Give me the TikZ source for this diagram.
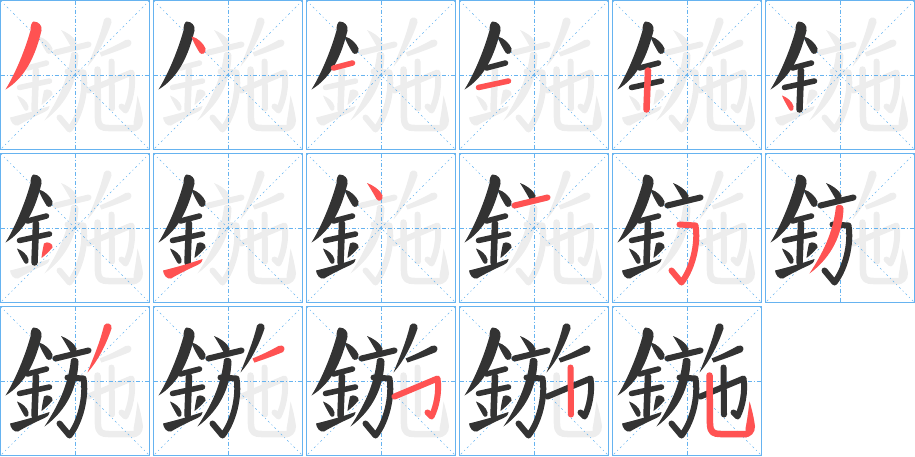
\documentclass[tikz,border=0pt]{standalone}
\definecolor{gridblue}{HTML}{66B3F0}
\definecolor{ink}{HTML}{333333}
\definecolor{hl}{HTML}{FF5252}
\definecolor{ghost}{HTML}{EDEDED}
\tikzset{
  cellframe/.style={draw=gridblue, line width=1.3pt},
  guide/.style={draw=gridblue, line width=0.8pt, dash pattern=on 4pt off 2pt on 1pt off 2pt},
  diag/.style={draw=gridblue, line width=0.6pt, dash pattern=on 2pt off 3pt on 1pt off 3pt},
  ln/.style={line width=#1, line cap=round, line join=round},
}
\newcommand\stk[2]{\ifcase#1\or
  % 1 pie of ren
  \fill[#2] (33,21) .. controls (38,21) and (42,25) .. (41,30)
     .. controls (35,55) and (25,77) .. (5,89)
     .. controls (12,78) and (23,55) .. (30,30)
     .. controls (30,25) and (31,22) .. (33,21) -- cycle;\or
  % 2 dot of ren
  \fill[#2] (38,36) .. controls (44,37) and (50,43) .. (52,48)
     .. controls (53,53) and (48,55) .. (46,52)
     .. controls (43,47) and (40,42) .. (38,36) -- cycle;\or
  % 3
  \draw[#2, ln=5.5] (27,67.5) -- (46,62.5);\or
  % 4
  \draw[#2, ln=5.5] (19,87) -- (49,80.5);\or
  % 5
  \draw[#2, ln=6.5] (35.5,70) -- (34,109);\or
  % 6
  \fill[#2] (16.5,95) .. controls (21,96.5) and (27,101) .. (28,106)
     .. controls (29,110) and (25,112) .. (23.5,108.5)
     .. controls (21,104) and (18,99) .. (16.5,95) -- cycle;\or
  % 7
  \fill[#2] (43.5,90) .. controls (47,87) and (53,90.5) .. (52,94)
     .. controls (48,98.5) and (45,101.5) .. (41,104.5)
     .. controls (41.5,99) and (42.5,95) .. (43.5,90) -- cycle;\or
  % 8
  \fill[#2] (9.5,117) .. controls (20,114.5) and (38,109.5) .. (49,105.5)
     .. controls (48.5,109) and (46.5,110.5) .. (44,111.5)
     .. controls (34,116) and (24,121) .. (17.5,125)
     .. controls (13.5,126) and (10,121.5) .. (9.5,117) -- cycle;\or
  % 9
  \fill[#2] (60.5,29.5) .. controls (66,31.5) and (74,36.5) .. (76,42)
     .. controls (77,47) and (72,49) .. (70,45.5)
     .. controls (67,40) and (64,35) .. (60.5,29.5) -- cycle;\or
  % 10
  \draw[#2, ln=6] (55,52) -- (88,44);\or
  % 11
  \draw[#2, ln=6] (67,71) -- (83,72) .. controls (86,90) and (80,115) .. (69,129) -- (59,117);\or
  % 12
  \fill[#2] (70.5,53) .. controls (72.5,50) and (78,51) .. (78,55)
     .. controls (77,80) and (67,103) .. (44,120)
     .. controls (57,100) and (67.5,80) .. (70.5,53) -- cycle;\or
  % 13
  \fill[#2] (103.5,19) .. controls (105.5,15.5) and (112,16.5) .. (111,22)
     .. controls (105,40) and (96,56) .. (87,66)
     .. controls (92.5,52) and (99.5,36) .. (103.5,19) -- cycle;\or
  % 14
  \fill[#2] (99,52) .. controls (110,47.5) and (118,43.5) .. (125,39.5)
     .. controls (130,37.5) and (133,42) .. (129.5,45.5)
     .. controls (120,49.5) and (110,53) .. (101,56) -- cycle;\or
  % 15
  \draw[#2, ln=6] (88,90) -- (131,72) .. controls (133,85) and (130,100) .. (125,110) -- (121,106);\or
  % 16
  \draw[#2, ln=6] (111,61) -- (111.5,108);\or
  % 17
  \draw[#2, ln=6.5] (97,69) -- (97.5,118) .. controls (98,126) and (101,127.5) .. (108,127.5) -- (134,127.5);
  \fill[#2] (133,122) .. controls (135,112) and (136,103) .. (137,95)
     .. controls (139.5,103) and (141.5,112) .. (142.5,120)
     .. controls (142.5,126.5) and (138,130.5) .. (133,130.8) -- cycle;\fi}
\begin{document}
\begin{tikzpicture}[x=1pt,y=-1pt]
\useasboundingbox (0,0) rectangle (915,456);
\foreach \k in {1,...,17}{
  \pgfmathtruncatemacro\col{mod(\k-1,6)}
  \pgfmathtruncatemacro\row{(\k-1)/6}
  \begin{scope}[shift={(153*\col+0.5,153*\row+0.5)}]
    \foreach \s in {1,...,17}{\stk{\s}{ghost}}
    \draw[guide] (74.5,0) -- (74.5,149) (0,74.5) -- (149,74.5);
    \draw[diag] (0,0) -- (149,149) (149,0) -- (0,149);
    \draw[cellframe] (0,0) rectangle (149,149);
    \foreach \s in {1,...,\k}{\ifnum\s<\k\relax\stk{\s}{ink}\else\stk{\s}{hl}\fi}
  \end{scope}
}
\end{tikzpicture}
\end{document}
